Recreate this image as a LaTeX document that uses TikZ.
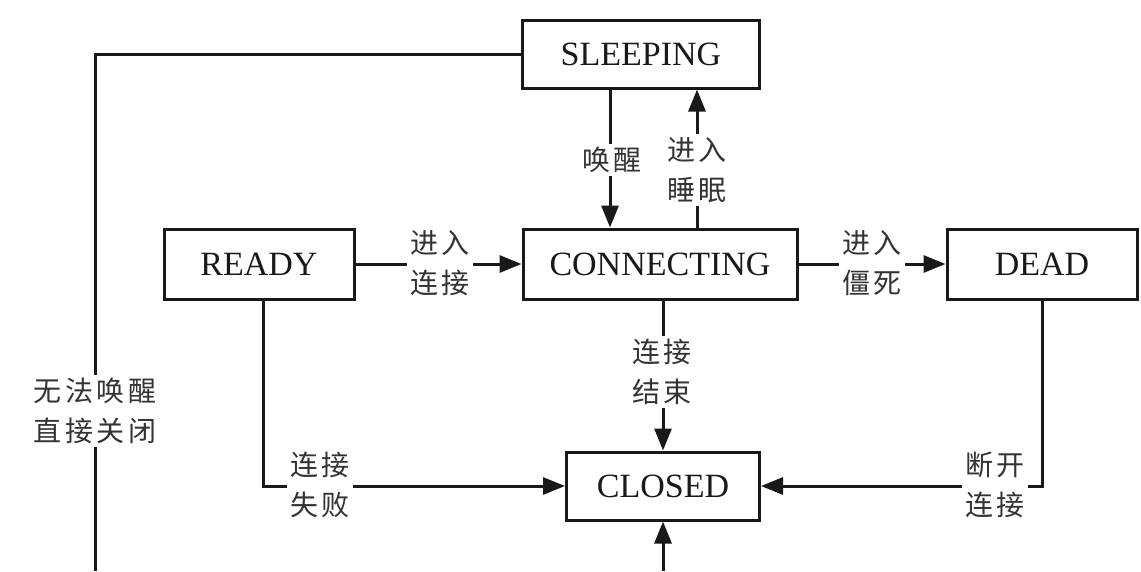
\documentclass[tikz,border=0pt]{standalone}
\usepackage{fontspec}
\setmainfont{Liberation Serif}
\newfontfamily\cjk[LetterSpace=12]{Noto Sans CJK SC}
\usetikzlibrary{arrows.meta}
\tikzset{
  state/.style={draw=black!90, line width=3pt, fill=white, minimum height=68pt, inner sep=0pt,
    font=\fontsize{34}{38}\selectfont, text=black!90},
  arr/.style={draw=black!90, line width=3pt, -{Triangle[length=22pt,width=17pt]}},
  ln/.style={draw=black!90, line width=3pt},
  lab/.style={fill=white, inner sep=3pt, align=center, text=black!80,
    font=\cjk\fontsize{28}{40}\selectfont}
}
\begin{document}
\begin{tikzpicture}[x=1pt, y=-1pt]
\useasboundingbox[fill=white] (0,0) rectangle (1141,571);
% states
\node[state, minimum width=237pt] (sleeping) at (641,54) {SLEEPING};
\node[state, minimum width=190pt, minimum height=70pt] (ready) at (259,264) {READY};
\node[state, minimum width=274pt, minimum height=70pt] (connecting) at (660,264) {CONNECTING};
\node[state, minimum width=190pt, minimum height=70pt] (dead) at (1042,264) {DEAD};
\node[state, minimum width=193pt] (closed) at (663,486) {CLOSED};
\coordinate (bl) at (95,571);
\coordinate (bc) at (663,571);
% connectors
\draw[arr] ([xshift=-31pt]sleeping.south) -- ([xshift=-31pt]sleeping.south |- connecting.north);
\draw[arr] ([xshift=56pt]sleeping.south |- connecting.north) -- ([xshift=56pt]sleeping.south);
\draw[arr] (ready.east) -- (connecting.west);
\draw[arr] (connecting.east) -- (dead.west);
\draw[arr] (closed.north |- connecting.south) -- (closed.north);
\draw[arr] ([xshift=4pt]ready.south) |- (closed.west);
\draw[arr] (dead.south) |- (closed.east);
\draw[ln] (sleeping.west) -| (bl);
\draw[arr] (bc) -- (closed.south);
% labels
\node[lab] (l1) at (612,160) {唤醒};
\node[lab] (l2) at (697,170) {进入\\睡眠};
\node[lab] (l3) at (440,263) {进入\\连接};
\node[lab] (l4) at (872,263) {进入\\僵死};
\node[lab] (l5) at (662,372) {连接\\结束};
\node[lab] (l6) at (320,485) {连接\\失败};
\node[lab] (l7) at (995,485) {断开\\连接};
\node[lab] (l8) at (95,411) {无法唤醒\\直接关闭};
\end{tikzpicture}
\end{document}
